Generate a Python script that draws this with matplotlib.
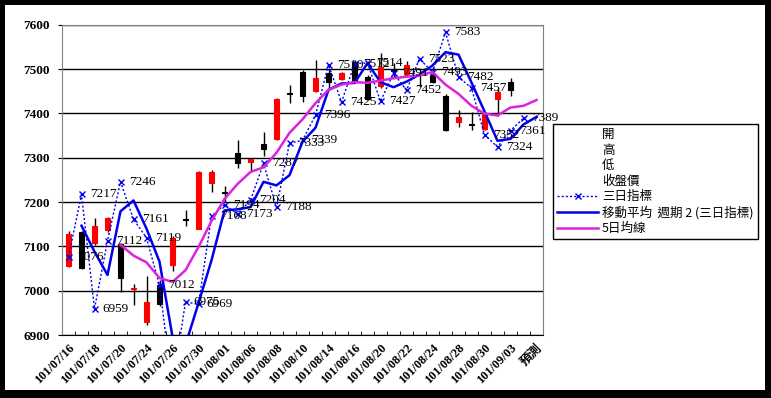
"""
加權指數 K 線圖 + 三日指標 + 均線
"""
import numpy as np
import matplotlib
matplotlib.use('Agg')
import matplotlib.pyplot as plt
from matplotlib.lines import Line2D
from matplotlib.patches import Rectangle

plt.rcParams['font.family'] = ['Liberation Serif', 'Noto Sans CJK TC', 'DejaVu Sans']
plt.rcParams['axes.unicode_minus'] = False

# ============================================================
# 資料
# ============================================================
dates = ['101/07/16', '101/07/17', '101/07/18', '101/07/19', '101/07/20',
         '101/07/23', '101/07/24', '101/07/25', '101/07/26', '101/07/27',
         '101/07/30', '101/07/31', '101/08/01', '101/08/03', '101/08/06',
         '101/08/07', '101/08/08', '101/08/09', '101/08/10', '101/08/13',
         '101/08/14', '101/08/15', '101/08/16', '101/08/17', '101/08/20',
         '101/08/21', '101/08/22', '101/08/23', '101/08/24', '101/08/27',
         '101/08/28', '101/08/29', '101/08/30', '101/08/31', '101/09/03',
         '101/09/04', '預測']

nan = np.nan
open_ = [7055, 7133, 7108, 7136, 7106, 7003, 6929, 7012, 7059, 7161,
         7140, 7243, 7222, 7311, 7290, 7332, 7342, 7446, 7494, 7450,
         7490, 7477, 7516, 7482, 7462, 7497, 7488, 7488, 7487, 7440,
         7380, 7375, 7365, 7432, 7471, nan, nan]
high = [7134, 7135, 7163, 7166, 7108, 7016, 7034, 7023, 7124, 7183,
        7270, 7273, 7236, 7340, 7297, 7357, 7434, 7464, 7497, 7520,
        7500, 7493, 7520, 7487, 7536, 7513, 7517, 7498, 7504, 7444,
        7407, 7404, 7402, 7457, 7479, nan, nan]
low = [7053, 7048, 7104, 7133, 6997, 6967, 6923, 6965, 7044, 7145,
       7138, 7223, 7201, 7277, 7269, 7303, 7340, 7423, 7425, 7449,
       7455, 7475, 7468, 7430, 7457, 7483, 7485, 7460, 7468, 7360,
       7370, 7363, 7362, 7393, 7440, nan, nan]
close = [7127, 7052, 7147, 7163, 7028, 7006, 6975, 6971, 7119, 7160,
         7268, 7267, 7220, 7288, 7296, 7320, 7432, 7444, 7440, 7479,
         7470, 7491, 7472, 7432, 7505, 7496, 7508, 7487, 7470, 7363,
         7392, 7373, 7399, 7449, 7453, nan, nan]

three_day = [7076, 7217, 6959, 7112, 7246, 7161, 7119, 7012, 6780, 6975,
             6969, 7168, 7194, 7173, 7204, 7287, 7188, 7333, 7339, 7396,
             7510, 7425, 7512, 7514, 7427, 7491, 7452, 7523, 7493, 7583,
             7482, 7457, 7352, 7324, 7361, 7389, nan]

ma2 = [nan, 7146.5, 7088, 7035.5, 7179, 7203.5, 7140, 7065.5, 6896, 6877.5,
       6972, 7068.5, 7181, 7183.5, 7188.5, 7245.5, 7237.5, 7260.5, 7336, 7367.5,
       7453, 7467.5, 7468.5, 7513, 7470.5, 7459, 7471.5, 7487.5, 7508, 7538,
       7532.5, 7469.5, 7404.5, 7338, 7342.5, 7375, 7392]

ma5 = [nan, nan, nan, nan, 7103.4, 7079.2, 7063.8, 7028.6, 7019.8, 7046.2,
       7098.6, 7157.0, 7206.8, 7240.6, 7267.8, 7278.2, 7311.2, 7356.0, 7386.4, 7423.0,
       7453.0, 7464.8, 7470.4, 7468.8, 7474.0, 7479.2, 7482.6, 7485.6, 7493.2, 7464.8,
       7444.0, 7417.0, 7399.4, 7395.2, 7413.2, 7417, 7430]

legend_labels = ['開', '高', '低', '收盤價', '三日指標', '移動平均  週期 2 (三日指標)', '5日均線']

RED = '#FF0000'
BLUE = '#0000EE'
MAGENTA = '#DD22DD'

# ============================================================
# 畫圖
# ============================================================
W, H = 771, 398
fig = plt.figure(figsize=(W / 100, H / 100), dpi=100, facecolor='black')
bg = Rectangle((5 / W, 1 - 390 / H), 760 / W, 385 / H, transform=fig.transFigure,
               facecolor='white', edgecolor='none', zorder=-10)
fig.patches.append(bg)

ax = fig.add_axes([62 / W, 1 - 335 / H, 481 / W, (335 - 24.7) / H])
ax.set_zorder(1)
x = np.arange(len(dates))
o = np.array(open_, dtype=float)
c = np.array(close, dtype=float)
hi = np.array(high, dtype=float)
lo = np.array(low, dtype=float)

# K 線
up = c >= o
ax.vlines(x, lo, hi, color='black', linewidth=1, zorder=2)
body_bottom = np.minimum(o, c)
body_h = np.abs(c - o)
ax.bar(x, body_h, bottom=body_bottom, width=0.45,
       color=np.where(up, RED, 'black'), edgecolor=np.where(up, RED, 'black'),
       linewidth=0.8, zorder=3)

# 三日指標、移動平均、5日均線
ax.plot(x, three_day, color=BLUE, linestyle=(0, (1.5, 1.5)), linewidth=1,
        marker='x', markersize=5, markeredgewidth=1, zorder=4)
ax.plot(x, ma2, color=BLUE, linewidth=1.8, zorder=5)
ax.plot(x, ma5, color=MAGENTA, linewidth=1.8, zorder=5)

for i, v in enumerate(three_day):
    if np.isfinite(v):
        ax.annotate(f'{v:.0f}', (i, v), xytext=(6, 0), textcoords='offset points',
                    va='center', ha='left', fontsize=9.5, zorder=6)

ax.set_xlim(-0.5, len(dates) - 0.5)
ax.set_ylim(6900, 7600)
ax.set_yticks(np.arange(6900, 7601, 100))
ax.set_yticklabels([str(v) for v in range(6900, 7601, 100)], fontsize=9.5,
                   fontweight='bold')
ax.set_xticks(x[::2])
ax.set_xticklabels(dates[::2], rotation=45, ha='right', rotation_mode='anchor',
                   fontsize=9, fontweight='bold')
ax.set_xticks(np.arange(-0.5, len(dates), 1), minor=True)
ax.tick_params(axis='x', which='major', length=0, pad=5)
ax.tick_params(axis='x', which='minor', direction='in', length=3, color='black')
ax.tick_params(axis='y', direction='out', length=3, pad=6)
ax.yaxis.grid(True, color='black', linewidth=1)
ax.set_axisbelow(True)
for s in ['top', 'right', 'left']:
    ax.spines[s].set_color('#808080')
ax.spines['bottom'].set_color('black')

handles = [Line2D([], [], linestyle='none') for _ in range(4)]
handles += [Line2D([], [], color=BLUE, linestyle=(0, (1.5, 1.5)), linewidth=1,
                   marker='x', markersize=5),
            Line2D([], [], color=BLUE, linewidth=1.8),
            Line2D([], [], color=MAGENTA, linewidth=1.8)]
leg = fig.legend(handles, legend_labels, loc='upper left',
                 bbox_to_anchor=(552.7 / W, 1 - 124 / H), frameon=True,
                 fancybox=False, edgecolor='black', framealpha=1,
                 prop={'family': ['Noto Sans CJK TC', 'DejaVu Sans'], 'size': 9},
                 handlelength=3.3, handletextpad=0.3, labelspacing=0.2,
                 borderpad=0.35, borderaxespad=0, numpoints=1)
leg.get_frame().set_linewidth(1)

fig.savefig('out.png', dpi=100, facecolor=fig.get_facecolor())
